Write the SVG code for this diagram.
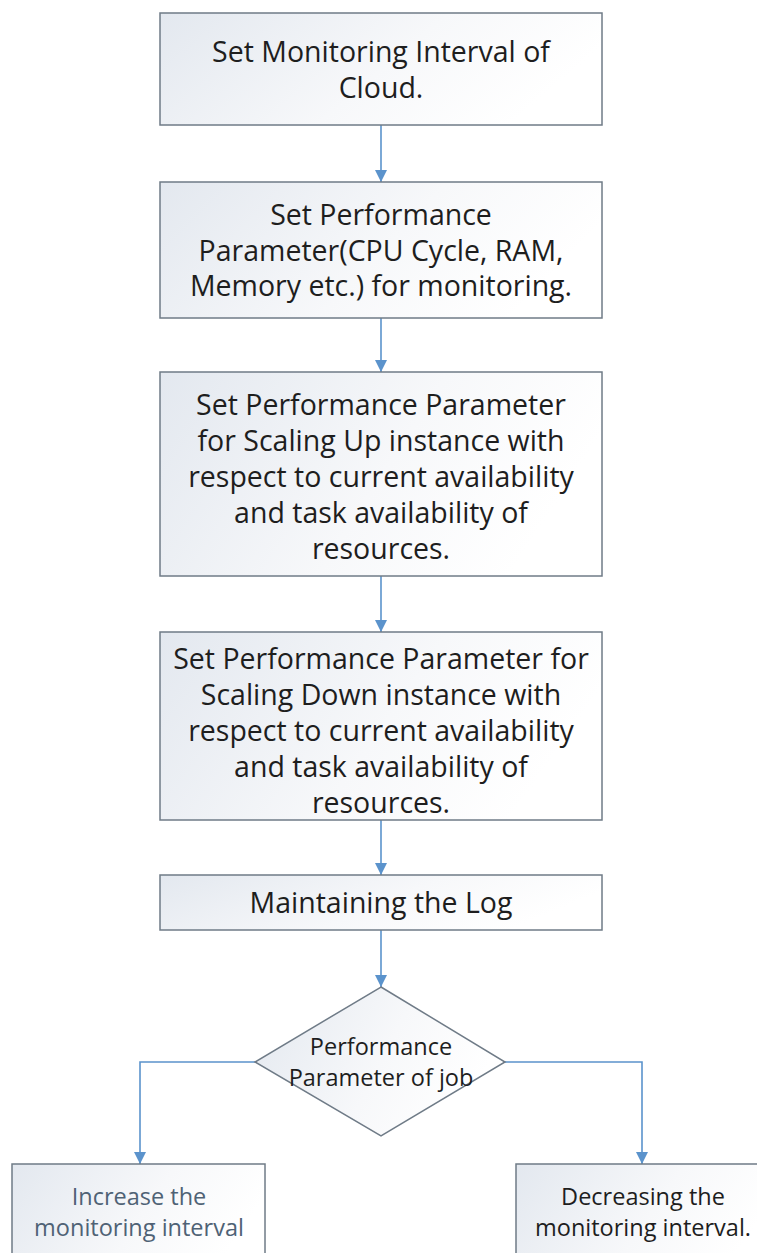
<svg xmlns="http://www.w3.org/2000/svg" width="757" height="1253" viewBox="0 0 757 1253">
  <defs>
    <linearGradient id="boxFill" x1="0" y1="0" x2="1" y2="0.3">
      <stop offset="0" stop-color="#e3e8ef"/>
      <stop offset="0.6" stop-color="#f7f8fa"/>
      <stop offset="1" stop-color="#ffffff"/>
    </linearGradient>
    <marker id="arrow" viewBox="0 0 12 12" refX="12" refY="6" markerWidth="12" markerHeight="12" markerUnits="userSpaceOnUse" orient="auto">
      <path d="M0,0 L12,6 L0,12 Z" fill="#5b93cc"/>
    </marker>
    <style>
      .box { fill: url(#boxFill); stroke: #6f7b87; stroke-width: 1.5; }
      .lbl { font-family: "Open Sans", "Liberation Sans", sans-serif; fill: #1e1e1e; text-anchor: middle; }
      .big { font-size: 28.5px; }
      .small { font-size: 23.5px; }
      .edge { fill: none; stroke: #5b93cc; stroke-width: 1.6; marker-end: url(#arrow); }
    </style>
  </defs>
  <rect width="757" height="1253" fill="#ffffff"/>

  <g id="connectors">
    <path class="edge" d="M381,125 L381,182"/>
    <path class="edge" d="M381,318 L381,372"/>
    <path class="edge" d="M381,576 L381,632"/>
    <path class="edge" d="M381,820 L381,875"/>
    <path class="edge" d="M381,930 L381,987"/>
    <path class="edge" d="M255,1062 L140,1062 L140,1164"/>
    <path class="edge" d="M505,1062 L642,1062 L642,1164"/>
  </g>

  <g id="node-interval">
    <rect class="box" x="160" y="13" width="442" height="112"/>
    <text class="lbl big" x="381" y="62">Set Monitoring Interval of</text>
    <text class="lbl big" x="381" y="98">Cloud.</text>
  </g>

  <g id="node-parameters">
    <rect class="box" x="160" y="182" width="442" height="136"/>
    <text class="lbl big" x="381" y="225">Set Performance</text>
    <text class="lbl big" x="381" y="261">Parameter(CPU Cycle, RAM,</text>
    <text class="lbl big" x="381" y="296">Memory etc.) for monitoring.</text>
  </g>

  <g id="node-scale-up">
    <rect class="box" x="160" y="372" width="442" height="204"/>
    <text class="lbl big" x="381" y="415">Set Performance Parameter</text>
    <text class="lbl big" x="381" y="451">for Scaling Up instance with</text>
    <text class="lbl big" x="381" y="487">respect to current availability</text>
    <text class="lbl big" x="381" y="523">and task availability of</text>
    <text class="lbl big" x="381" y="559">resources.</text>
  </g>

  <g id="node-scale-down">
    <rect class="box" x="160" y="632" width="442" height="188"/>
    <text class="lbl big" x="381" y="669">Set Performance Parameter for</text>
    <text class="lbl big" x="381" y="705">Scaling Down instance with</text>
    <text class="lbl big" x="381" y="741">respect to current availability</text>
    <text class="lbl big" x="381" y="777">and task availability of</text>
    <text class="lbl big" x="381" y="813">resources.</text>
  </g>

  <g id="node-log">
    <rect class="box" x="160" y="875" width="442" height="55"/>
    <text class="lbl big" x="381" y="913">Maintaining the Log</text>
  </g>

  <g id="node-decision">
    <polygon class="box" points="381,987 505,1062 381,1136 255,1062"/>
    <text class="lbl small" x="381" y="1055">Performance</text>
    <text class="lbl small" x="381" y="1086">Parameter of job</text>
  </g>

  <g id="node-increase">
    <rect class="box" x="12" y="1164" width="253" height="110"/>
    <text class="lbl small" x="139" y="1205" style="fill:#4f6275">Increase the</text>
    <text class="lbl small" x="139" y="1236" style="fill:#4f6275">monitoring interval</text>
  </g>

  <g id="node-decrease">
    <rect class="box" x="516" y="1164" width="260" height="110"/>
    <text class="lbl small" x="643" y="1205">Decreasing the</text>
    <text class="lbl small" x="643" y="1236">monitoring interval.</text>
  </g>
</svg>
